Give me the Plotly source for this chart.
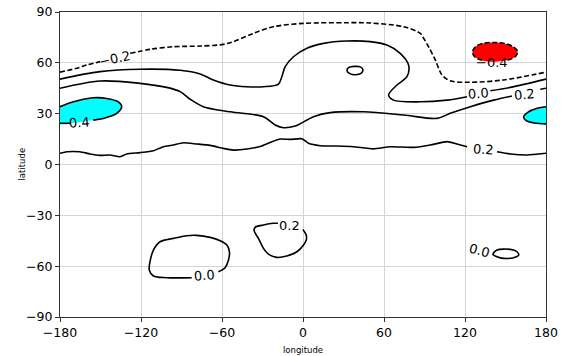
import plotly.graph_objects as go

# Contour paths (longitude, latitude); None breaks a line where its label sits.
neg02_lon = [-180, -167.6, -160.2, -150.3, None, -128, -113, -96, -76, -59, -51.5, -36.7, -22, 0.4,
             32.5, 50, 74.5, 86.9, 89.3, 93, 98, 103, 109, 124, 148.6, 180]
neg02_lat = [54.5, 56.8, 58.7, 60.7, None, 65.6, 68, 69.5, 69.9, 70.9, 72.5, 77.4, 81.3, 83.3,
             83.7, 83.5, 81.3, 77.4, 74.5, 69.5, 61.7, 52.8, 49.4, 48.5, 49.9, 54.5]

zero_n_lon = [-180, -150.3, -120.7, -91, -76.2, -66.4, -54, -41.6, -29.3, -18.2, -15.7, -13.2, -7.1,
              2.9, 15.2, 32.5, 49.8, 62.2, 72, 78.2, 77, 69.6, 63.4, 67, 86.9, 106.7, 121.5, None,
              138.8, 153.6, 180]
zero_n_lat = [50.4, 54.8, 56.2, 55.6, 53.4, 49.9, 46.9, 45.9, 45.9, 47.5, 51.8, 57.7, 63.6,
              68.6, 71.5, 72.9, 72.5, 70.5, 65.6, 58.7, 51.8, 46.9, 41, 38, 37, 38, 40, None,
              43.5, 45.5, 50.4]

pos02_n_lon = [-180, -150.3, -120.7, -101, -91, -83.6, -73.8, -54, -29.3, -20.6, -14.5, -5.8, 7.8,
               20.1, 44.8, 74.5, 99.2, 109.1, 124, 141.2, 154.8, None, 175.8, 180]
pos02_n_lat = [45, 49.3, 47.9, 45.5, 43, 38.5, 34.1, 31.1, 28.2, 23.3, 21.7, 22.7, 28.2,
               30.6, 31.1, 29.2, 27.2, 30.2, 34.1, 38, 40.4, None, 44.4, 45]

pos02_eq_lon = [-180, -175, -165.2, -157.8, -150.3, -142.9, -135.5, -130.6, -120.7, -110.8, -103.4,
                -96, -88.6, -78.7, -68.8, -59, -51.5, -41.6, -30.5, -23, -16.9, -9.5, -0.8, 4.1,
                12.7, 25.1, 37.4, 52.2, 64.6, 81.9, 94.3, 106.7, 114, 121.5, None, 143.7, 153.6,
                166, 180]
pos02_eq_lat = [6.6, 7.5, 7.5, 6.2, 5.4, 5.6, 4.6, 6.2, 7, 8.1, 10.5,
                11.5, 12.8, 12.1, 11.3, 9.5, 8.5, 9.1, 10.9, 13.4, 15, 14.8, 15.2, 12.5,
                11.1, 10.9, 10.5, 9.2, 10.5, 10.1, 11.5, 13.5, 12.1, 10.5, None, 7.5, 6.2,
                5.6, 6.6]

loop_n_lon = [32.5, 34, 38, 42.5, 44.4, 43, 39, 35, 32.5]
loop_n_lat = [55.5, 57.3, 57.9, 57.6, 56, 53.8, 53, 53.5, 55.5]

zero_s_lon = [-62.7, -57.7, -55.2, -54.5, -56.4, -61.4, -68.8, -78.7, -86.1, -96, -105.9, -110.8,
              -113.1, -113.9, -110.8, -100.9, -82.4]
zero_s_lat = [-63.3, -60.9, -56.4, -51.5, -47.5, -45, -43, -41.8, -42, -43.6, -45.6, -50.5,
              -56.4, -62.3, -65.8, -66.8, -66.8]

pos02_s_lon = [-0.1, 2.4, 2.4, 0.4, -4.5, -12, -19.4, -25.6, -29.3, -33, -36.2, -35.5, -29.3,
               -21.9, -18.6]
pos02_s_lat = [-38.3, -41.6, -44.6, -47.5, -51.5, -54, -54.8, -52.9, -49.5, -43.6, -39.1, -37.1,
               -35.7, -34.7, -34.7]

zero_se_lon = [140.7, 143.7, 153.6, 158.5, 159.8, 156, 148.6, 143.7, 140.7]
zero_se_lat = [-53, -50.5, -50.1, -51.5, -53.4, -55, -55.4, -54.4, -53]

# Regions above 0.4 (cyan) and below -0.4 (red)
hi_w_lon = [-180, -170, -155.3, -145.4, -136.8, -134.3, -138, -147.9, -155.3, None, -172.6, -180]
hi_w_lat = [34.1, 37, 39.4, 39, 37, 34.1, 30.2, 27.2, 26.2, None, 24.3, 24.3]
hi_e_lon = [180, 173.4, 166.5, 163.4, 165.5, 171.5, 180]
hi_e_lat = [34.1, 33.2, 30.8, 28, 25.8, 24.5, 24.0]
lo_lon = [151.5, 157, 159, 156, 150, 142, 134, 128, 125.5, 127.5, 133.5, None, 143, 151.5]
lo_lat = [61.6, 63.5, 66.5, 69.3, 71.3, 72, 71.6, 69.6, 66.5, 63.3, 61.3, None, 60.7, 61.6]

# Inline contour labels: text, lon, lat, rotation
label_text = ["−0.2", "−0.4", "0.0", "0.2", "0.2", "0.4", "0.0", "0.2", "0.0"]
label_lon = [-139.2, 140, 130, 164, 133.8, -165.2, -73.2, -10.2, 130.5]
label_lat = [62.7, 60.2, 41.8, 41.5, 9.1, 24.8, -65.7, -36.2, -50.8]
label_rot = [-12, 0, -4, -5, 4, -4, -4, 0, 15]

lon_ticks = [-180, -120, -60, 0, 60, 120, 180]
lat_ticks = [-90, -60, -30, 0, 30, 60, 90]


def fmt(v):
    return str(v).replace("-", "−")


def solid_pts(xs, ys):
    return [x for x in xs if x is not None], [y for y in ys if y is not None]


fig = go.Figure()
LINE_W = 1.6

# filled extremes
for xs, ys, col in [(hi_w_lon, hi_w_lat, "#00ffff"), (hi_e_lon, hi_e_lat, "#00ffff"),
                    (lo_lon, lo_lat, "#ff0000")]:
    fx, fy = solid_pts(xs, ys)
    fig.add_trace(go.Scatter(x=fx, y=fy, mode="lines", fill="toself", fillcolor=col,
                             line=dict(width=0, shape="spline", smoothing=0.9),
                             hoverinfo="skip", showlegend=False))

solid_lines = [(zero_n_lon, zero_n_lat), (pos02_n_lon, pos02_n_lat), (loop_n_lon, loop_n_lat),
               (zero_s_lon, zero_s_lat), (pos02_s_lon, pos02_s_lat),
               (zero_se_lon, zero_se_lat), (hi_w_lon, hi_w_lat), (hi_e_lon, hi_e_lat)]
for xs, ys in solid_lines:
    fig.add_trace(go.Scatter(x=xs, y=ys, mode="lines",
                             line=dict(color="black", width=LINE_W, shape="spline", smoothing=0.9),
                             hoverinfo="skip", showlegend=False))

# wiggly equatorial 0.2 contour
fig.add_trace(go.Scatter(x=pos02_eq_lon, y=pos02_eq_lat, mode="lines",
                         line=dict(color="black", width=LINE_W, shape="spline", smoothing=0.5),
                         hoverinfo="skip", showlegend=False))

# negative contours dashed
lo_outline_lon = lo_lon[:11]
lo_outline_lat = lo_lat[:11]
for xs, ys in [(neg02_lon, neg02_lat), (lo_outline_lon, lo_outline_lat)]:
    fig.add_trace(go.Scatter(x=xs, y=ys, mode="lines",
                             line=dict(color="black", width=LINE_W, dash="5px,2.5px",
                                       shape="spline", smoothing=0.9),
                             hoverinfo="skip", showlegend=False))

for t, x, y, r in zip(label_text, label_lon, label_lat, label_rot):
    fig.add_annotation(x=x, y=y, text=t, showarrow=False, textangle=r,
                       font=dict(family="DejaVu Sans", size=13, color="black"))

fig.add_annotation(x=0.5, y=0, xref="paper", yref="paper", yshift=-33, yanchor="middle",
                   text="longitude", showarrow=False,
                   font=dict(family="DejaVu Sans", size=8.5, color="black"))
fig.add_annotation(x=0, y=0.5, xref="paper", yref="paper", xshift=-39, xanchor="center",
                   yanchor="middle", text="latitude", textangle=-90, showarrow=False,
                   font=dict(family="DejaVu Sans", size=8.5, color="black"))

axis_common = dict(showgrid=True, gridcolor="#d4d4d4", gridwidth=1, zeroline=False,
                   showline=True, linecolor="#333333", linewidth=1.2, mirror=True,
                   ticks="outside", ticklen=4, tickwidth=1, tickcolor="#333333",
                   automargin=False,
                   tickfont=dict(family="DejaVu Sans", size=12.5, color="black"))
fig.update_xaxes(range=[-180, 180], tickvals=lon_ticks, ticktext=[fmt(v) for v in lon_ticks],
                 **axis_common)
fig.update_yaxes(range=[-90, 90], tickvals=lat_ticks, ticktext=[fmt(v) for v in lat_ticks],
                 **axis_common)

fig.update_layout(width=562, height=356, margin=dict(l=60, r=16, t=12, b=39),
                  plot_bgcolor="white", paper_bgcolor="white")

fig.write_html("out.html")
